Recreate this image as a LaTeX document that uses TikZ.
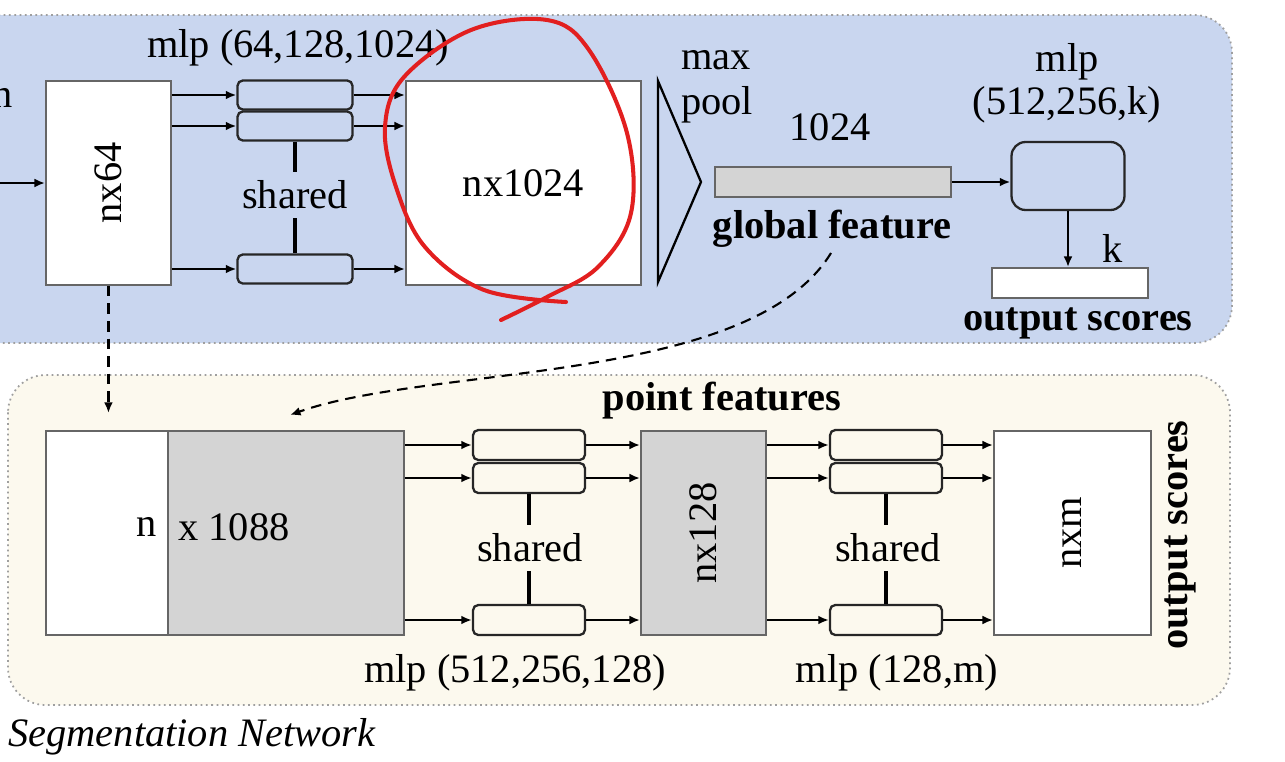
\documentclass[tikz,border=0pt]{standalone}
\usepackage{fontspec}
\setmainfont{Liberation Serif}
\usetikzlibrary{arrows.meta}
\definecolor{topblue}{HTML}{C9D6EF}
\definecolor{segcream}{HTML}{FCF9EE}
\definecolor{featgray}{HTML}{D4D4D4}
\definecolor{penred}{HTML}{E21F1F}
\tikzset{
  panel/.style={draw=gray!75, dotted, line width=1pt, rounded corners=0.75cm},
  tensor/.style={draw=black!60, line width=1.1pt, inner sep=0pt, anchor=north west, minimum height=4.08cm},
  layer/.style={draw=black!85, line width=1.3pt, rounded corners=3pt, inner sep=0pt, minimum width=2.3cm, minimum height=0.58cm},
  arr/.style={-{Latex[length=6pt,width=5pt]}, line width=1.3pt},
  dasharr/.style={-{Latex[length=6pt,width=5pt]}, dash pattern=on 6pt off 4pt, line width=1.2pt},
  txt/.style={font=\fontsize{23}{27}\selectfont, inner sep=0pt},
  bold/.style={font=\fontsize{23}{27}\selectfont\bfseries, inner sep=0pt},
  sharedtxt/.style={font=\fontsize{23}{27}\selectfont, inner sep=5pt},
}
\begin{document}
\begin{tikzpicture}[x=0.02cm, y=-0.02cm]
\clip (0,0) rectangle (1285,761);
\fill[white] (0,0) rectangle (1285,761);
\draw[panel, fill=topblue] (-60,15) rectangle (1232,343);
\draw[panel, fill=segcream] (8,375) rectangle (1230,705);

% top: classification part
\node[txt] (nin) at (3,98) {n};
\coordinate (inp) at (-5,183);
\node[tensor, fill=white, minimum width=2.5cm] (nx64) at (45,80) {};
\node[txt, rotate=90] at (nx64.center) {nx64};
\draw[arr] (inp) -- (nx64.west |- inp);

\node[layer, fill=topblue] (m1a) at (295,95) {};
\node[layer, fill=topblue] (m1b) at (295,126) {};
\node[layer, fill=topblue] (m1c) at (295,269) {};
\node[sharedtxt] (sh1) at (295,195) {shared};
\draw[line width=1.8pt] (m1b.south) -- (m1b.south |- sh1.north);
\draw[line width=1.8pt] (m1c.north |- sh1.south) -- (m1c.north);
\node[txt] at (298,48) {mlp (64,128,1024)};

\node[tensor, fill=white, minimum width=4.7cm] (nx1024) at (405,80) {};
\node[txt] at (nx1024.center) {nx1024};
\foreach \m in {m1a,m1b,m1c} {
  \draw[arr] (nx64.east |- \m) -- (\m.west);
  \draw[arr] (\m.east) -- (nx1024.west |- \m);
}

\draw[line width=1.3pt, line join=miter] (658,81) -- (701,182) -- (658,282) -- cycle;
\node[txt] at (716,60) {max};
\node[txt] at (717,105) {pool};

\node[draw=black!60, line width=1.1pt, fill=featgray, minimum width=4.72cm, minimum height=0.6cm, inner sep=0pt] (gfeat) at (833,182) {};
\node[txt] at (830,127) {1024};
\node[bold] (gname) at (832,229) {global feature};

\node[draw=black!85, line width=1.3pt, fill=topblue, rounded corners=8pt, minimum width=2.26cm, minimum height=1.36cm, inner sep=0pt] (mlpk) at (1068,176) {};
\node[txt] at (1067,62) {mlp};
\node[txt] at (1067,105) {(512,256,k)};
\draw[arr] (gfeat.east) -- (mlpk.west |- gfeat.east);

\node[draw=black!60, line width=1.1pt, fill=white, minimum width=3.12cm, minimum height=0.6cm, inner sep=0pt] (outk) at (1070,283) {};
\draw[arr] (mlpk.south) -- (mlpk.south |- outk.north);
\node[txt] at (1113,248) {k};
\node[bold] at (1078,323) {output scores};

% bottom: segmentation part
\node[tensor, fill=white, minimum width=2.44cm] (featl) at (45,430) {};
\node[tensor, fill=featgray, minimum width=4.72cm] (featr) at (167,430) {};
\node[txt, anchor=east] at (157,527) {n};
\node[txt, anchor=west] at (178,527) {x 1088};

\node[layer, fill=segcream, minimum width=2.24cm, minimum height=0.6cm] (m2a) at (529,445) {};
\node[layer, fill=segcream, minimum width=2.24cm, minimum height=0.6cm] (m2b) at (529,478) {};
\node[layer, fill=segcream, minimum width=2.24cm, minimum height=0.6cm] (m2c) at (529,620) {};
\node[sharedtxt] (sh2) at (530,548) {shared};
\draw[line width=1.8pt] (m2b.south) -- (m2b.south |- sh2.north);
\draw[line width=1.8pt] (m2c.north |- sh2.south) -- (m2c.north);
\node[txt] at (515,673) {mlp (512,256,128)};

\node[tensor, fill=featgray, minimum width=2.5cm] (nx128) at (640,430) {};
\node[txt, rotate=90] at (nx128.center) {nx128};
\foreach \m in {m2a,m2b,m2c} {
  \draw[arr] (featr.east |- \m) -- (\m.west);
  \draw[arr] (\m.east) -- (nx128.west |- \m);
}

\node[layer, fill=segcream, minimum width=2.24cm, minimum height=0.6cm] (m3a) at (886,445) {};
\node[layer, fill=segcream, minimum width=2.24cm, minimum height=0.6cm] (m3b) at (886,478) {};
\node[layer, fill=segcream, minimum width=2.24cm, minimum height=0.6cm] (m3c) at (886,620) {};
\node[sharedtxt] (sh3) at (888,548) {shared};
\draw[line width=1.8pt] (m3b.south) -- (m3b.south |- sh3.north);
\draw[line width=1.8pt] (m3c.north |- sh3.south) -- (m3c.north);
\node[txt] at (897,673) {mlp (128,m)};

\node[tensor, fill=white, minimum width=3.14cm] (nxm) at (993,430) {};
\node[txt, rotate=90] at (nxm.center) {nxm};
\foreach \m in {m3a,m3b,m3c} {
  \draw[arr] (nx128.east |- \m) -- (\m.west);
  \draw[arr] (\m.east) -- (nxm.west |- \m);
}
\node[bold, rotate=90] at (1180,535) {output scores};
\node[bold] at (722,401) {point features};

\node[txt, font=\fontsize{23}{27}\selectfont\itshape, anchor=west] at (8,737) {Segmentation Network};

% skip links
\coordinate (gtail) at (831,253);
\coordinate (ftip) at (290,415);
\draw[dasharr] (nx64.south) -- ([yshift=0.34cm]featl.north -| nx64.south);
\draw[dasharr] (gtail) .. controls (750,385) and (430,365) .. (ftip);

% hand-drawn mark
\draw[penred, line width=2.3pt, line cap=round] plot[smooth, tension=0.6] coordinates {(566,302) (484,290) (425,247) (396,187) (385,127) (404,77) (471,30) (547,20) (589,50) (627,133) (631,213) (598,267) (547,297) (501,320)};
\end{tikzpicture}
\end{document}
